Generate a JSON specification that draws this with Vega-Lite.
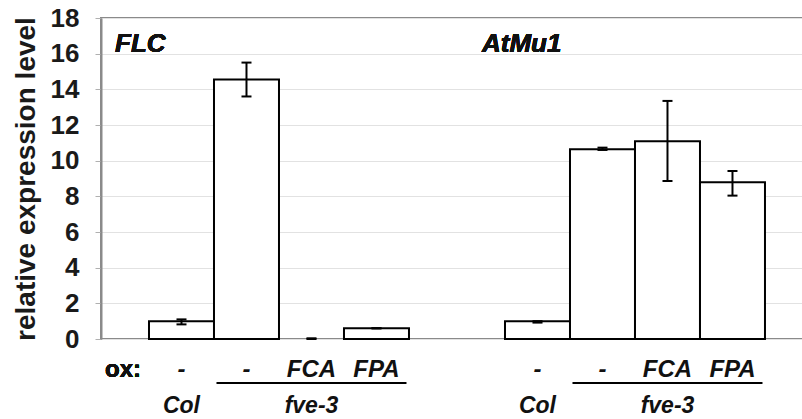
{
  "$schema": "https://vega.github.io/schema/vega-lite/v6.json",
  "width": 702,
  "height": 321,
  "autosize": {"type": "none"},
  "padding": {"left": 101, "top": 18, "right": 0, "bottom": 80},
  "background": "white",
  "config": {
    "view": {"stroke": "#8a8a8a", "strokeWidth": 2},
    "font": "Liberation Sans",
    "axisY": {
      "labelOverlap": false,
      "titleFont": "Liberation Sans", "titleFontSize": 28, "titleFontWeight": "bold", "titleColor": "#1a1a1a", "titlePadding": 10,
      "labelFont": "Liberation Sans", "labelFontSize": 26, "labelFontWeight": "bold", "labelColor": "#1a1a1a", "labelPadding": 16,
      "grid": true, "gridColor": "#e2e2e2", "gridWidth": 1,
      "domainColor": "#8a8a8a", "domainWidth": 2,
      "tickColor": "#b0b0b0", "tickSize": 6, "tickWidth": 1
    }
  },
  "data": {
    "values": [
      {"gene": "FLC", "cond": "Col", "ox": "-", "geno": "Col", "value": 0.99, "lo": 0.82, "hi": 1.1},
      {"gene": "FLC", "cond": "fve-3", "ox": "-", "geno": "", "value": 14.55, "lo": 13.6, "hi": 15.5},
      {"gene": "FLC", "cond": "FCA", "ox": "FCA", "geno": "fve-3", "value": 0.02, "lo": 0.0, "hi": 0.04},
      {"gene": "FLC", "cond": "FPA", "ox": "FPA", "geno": "", "value": 0.6, "lo": 0.6, "hi": 0.6},
      {"gene": "AtMu1", "cond": "Col", "ox": "-", "geno": "Col", "value": 0.99, "lo": 0.92, "hi": 1.0},
      {"gene": "AtMu1", "cond": "fve-3", "ox": "-", "geno": "", "value": 10.64, "lo": 10.6, "hi": 10.73},
      {"gene": "AtMu1", "cond": "FCA", "ox": "FCA", "geno": "fve-3", "value": 11.09, "lo": 8.86, "hi": 13.35},
      {"gene": "AtMu1", "cond": "FPA", "ox": "FPA", "geno": "", "value": 8.79, "lo": 8.04, "hi": 9.42}
    ]
  },
  "layer": [
    {
      "transform": [{"filter": "datum.value > 0.05"}],
      "mark": {"type": "bar", "fill": "white", "stroke": "black", "strokeWidth": 2},
      "encoding": {
        "x": {"field": "gene", "type": "nominal", "scale": {"domain": ["FLC", "AtMu1"], "paddingInner": 0.2697, "paddingOuter": 0.1208, "align": 0.558}, "axis": null},
        "xOffset": {"field": "cond", "type": "nominal", "scale": {"domain": ["Col", "fve-3", "FCA", "FPA"], "paddingInner": 0, "paddingOuter": 0}},
        "y": {
          "field": "value", "type": "quantitative",
          "scale": {"domain": [0, 18], "nice": false, "zero": true},
          "axis": {"values": [0, 2, 4, 6, 8, 10, 12, 14, 16, 18], "title": "relative expression level"}
        }
      }
    },
    {
      "mark": {"type": "rule", "stroke": "black", "strokeWidth": 2},
      "encoding": {
        "x": {"field": "gene", "type": "nominal"},
        "xOffset": {"field": "cond", "type": "nominal"},
        "y": {"field": "lo", "type": "quantitative", "axis": {"values": [0, 2, 4, 6, 8, 10, 12, 14, 16, 18], "title": "relative expression level"}},
        "y2": {"field": "hi"}
      }
    },
    {
      "mark": {"type": "tick", "orient": "horizontal", "size": 10, "thickness": 2, "color": "black", "opacity": 1},
      "encoding": {
        "x": {"field": "gene", "type": "nominal"},
        "xOffset": {"field": "cond", "type": "nominal"},
        "y": {"field": "lo", "type": "quantitative", "axis": {"values": [0, 2, 4, 6, 8, 10, 12, 14, 16, 18], "title": "relative expression level"}}
      }
    },
    {
      "mark": {"type": "tick", "orient": "horizontal", "size": 10, "thickness": 2, "color": "black", "opacity": 1},
      "encoding": {
        "x": {"field": "gene", "type": "nominal"},
        "xOffset": {"field": "cond", "type": "nominal"},
        "y": {"field": "hi", "type": "quantitative", "axis": {"values": [0, 2, 4, 6, 8, 10, 12, 14, 16, 18], "title": "relative expression level"}}
      }
    },
    {
      "mark": {"type": "text", "font": "Liberation Sans", "fontSize": 24, "fontWeight": "bold", "fontStyle": "italic", "color": "#111", "baseline": "alphabetic", "align": "center", "dy": 38},
      "encoding": {
        "x": {"field": "gene", "type": "nominal"},
        "xOffset": {"field": "cond", "type": "nominal"},
        "y": {"datum": 0, "axis": {"values": [0, 2, 4, 6, 8, 10, 12, 14, 16, 18], "title": "relative expression level"}},
        "text": {"field": "ox"}
      }
    },
    {
      "mark": {"type": "text", "font": "Liberation Sans", "fontSize": 23, "fontWeight": "bold", "fontStyle": "italic", "color": "#111", "baseline": "alphabetic", "align": "center", "dy": 74},
      "encoding": {
        "x": {"field": "gene", "type": "nominal"},
        "xOffset": {"field": "cond", "type": "nominal"},
        "y": {"datum": 0, "axis": {"values": [0, 2, 4, 6, 8, 10, 12, 14, 16, 18], "title": "relative expression level"}},
        "text": {"field": "geno"}
      }
    },
    {
      "transform": [{"filter": "datum.cond == 'FCA'"}],
      "mark": {"type": "tick", "orient": "horizontal", "size": 190, "thickness": 2, "color": "black", "opacity": 1, "yOffset": 44},
      "encoding": {
        "x": {"field": "gene", "type": "nominal"},
        "xOffset": {"field": "cond", "type": "nominal"},
        "y": {"datum": 0, "axis": {"values": [0, 2, 4, 6, 8, 10, 12, 14, 16, 18], "title": "relative expression level"}}
      }
    },
    {
      "mark": {"type": "text", "text": "ox:", "font": "Liberation Sans", "fontSize": 24, "fontWeight": "bold", "color": "#111", "baseline": "alphabetic", "align": "right", "dx": -8, "dy": 38},
      "encoding": {
        "x": {"datum": "FLC", "bandPosition": 0},
        "y": {"datum": 0, "axis": {"values": [0, 2, 4, 6, 8, 10, 12, 14, 16, 18], "title": "relative expression level"}}
      }
    },
    {
      "mark": {"type": "text", "text": "FLC", "font": "Liberation Sans", "fontSize": 26, "fontWeight": "bold", "fontStyle": "italic", "color": "#111", "baseline": "alphabetic", "align": "left", "dx": -34},
      "encoding": {
        "x": {"datum": "FLC", "bandPosition": 0},
        "y": {"datum": 16.09, "axis": {"values": [0, 2, 4, 6, 8, 10, 12, 14, 16, 18], "title": "relative expression level"}}
      }
    },
    {
      "mark": {"type": "text", "text": "AtMu1", "font": "Liberation Sans", "fontSize": 26, "fontWeight": "bold", "fontStyle": "italic", "color": "#111", "baseline": "alphabetic", "align": "left", "dx": -23},
      "encoding": {
        "x": {"datum": "AtMu1", "bandPosition": 0},
        "y": {"datum": 16.09, "axis": {"values": [0, 2, 4, 6, 8, 10, 12, 14, 16, 18], "title": "relative expression level"}}
      }
    }
  ]
}
